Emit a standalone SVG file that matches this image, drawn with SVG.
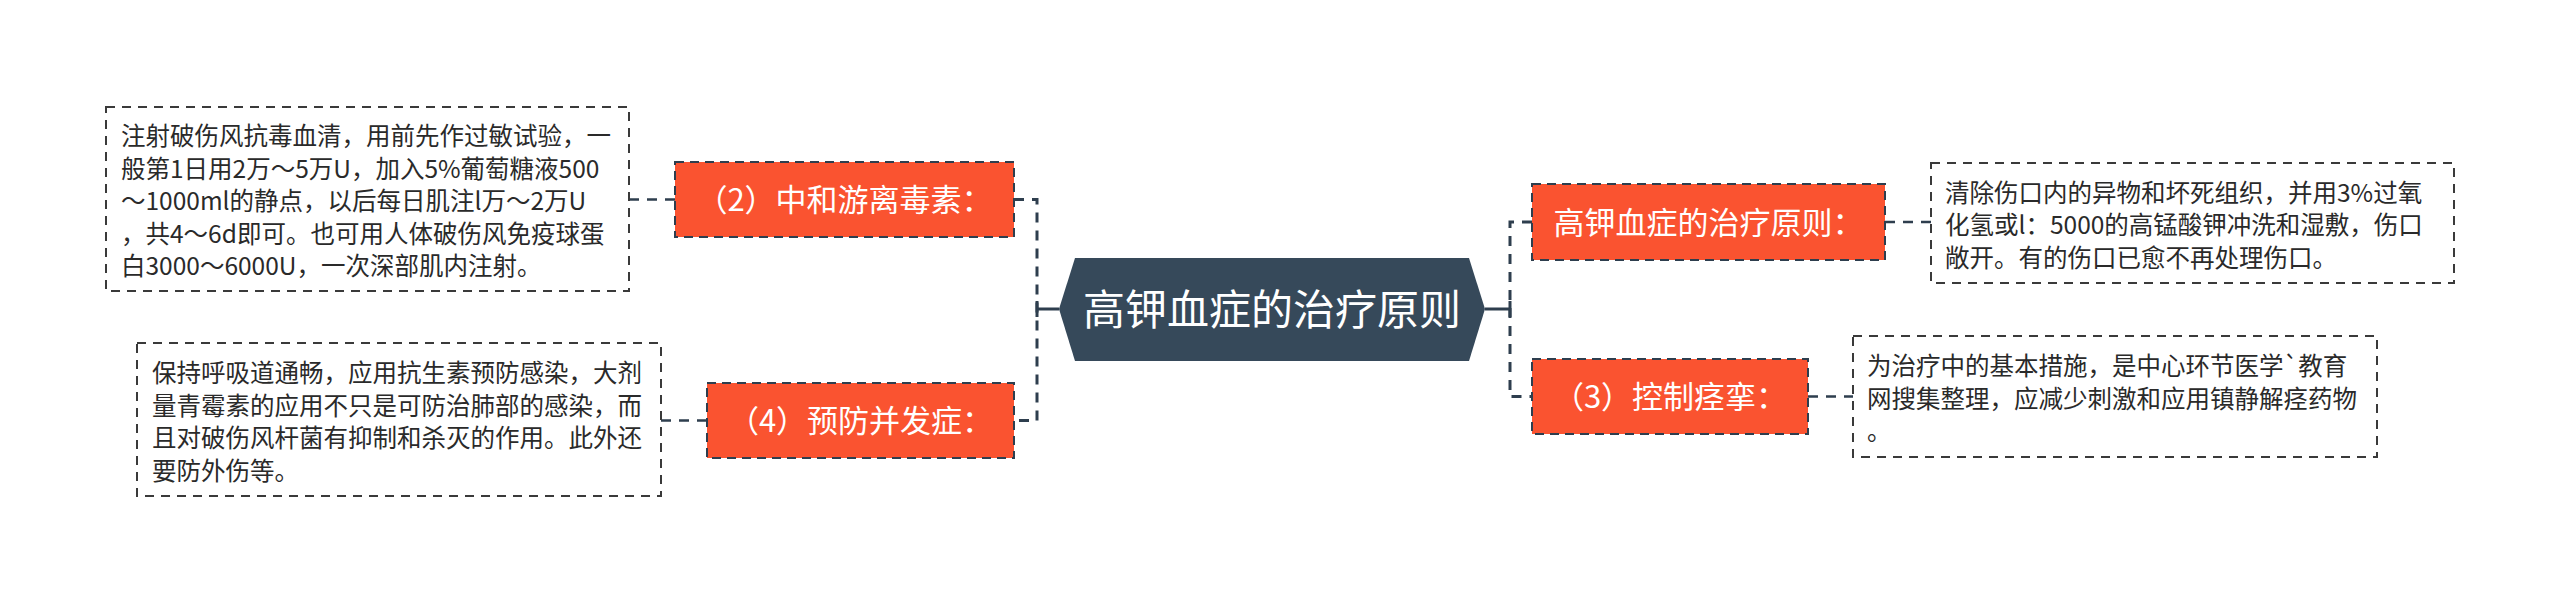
<svg xmlns="http://www.w3.org/2000/svg" width="2560" height="604" viewBox="0 0 2560 604">
<style>
.bg{fill:#ffffff}
.topic{fill:#FA5330;stroke:#2E3E4E;stroke-width:2;stroke-dasharray:9 6}
.note{fill:#ffffff;stroke:#3a3a3a;stroke-width:2;stroke-dasharray:9 7}
.root{fill:#36495A}
.tt{font-family:"Noto Sans CJK SC","Noto Sans",sans-serif;font-size:31px;fill:#ffffff;text-anchor:middle}
.rt{font-family:"Noto Sans CJK SC","Noto Sans",sans-serif;font-size:42px;fill:#ffffff;text-anchor:middle}
.nt{font-family:"Noto Sans CJK SC","Noto Sans",sans-serif;font-size:24.5px;fill:#2a2a2a}
.solid{fill:none;stroke:#2E3E4E;stroke-width:3}
.dash{fill:none;stroke:#2E3E4E;stroke-width:3;stroke-dasharray:10 8}
.dash2{fill:none;stroke:#2E3E4E;stroke-width:2.5;stroke-dasharray:10 8}
</style>
<rect class="bg" x="0" y="0" width="2560" height="604"/>
<g id="connectors">
<path class="solid" d="M1059,309 H1037 M1037,301 V317"/>
<path class="dash" d="M1014,199.5 H1037 V420.5 H1014"/>
<path class="solid" d="M1485,309 H1510 M1510,301 V317"/>
<path class="dash" d="M1532,222 H1510 V396.5 H1532"/>
<path class="dash2" d="M629,199.5 H675"/>
<path class="dash2" d="M661,420.5 H707"/>
<path class="dash2" d="M1885,222 H1931"/>
<path class="dash2" d="M1808,396.5 H1853"/>
</g>
<g id="root">
<polygon class="root" points="1059,309 1075,258 1469,258 1485,309 1469,361 1075,361"/>
<text class="rt" x="1272" y="325">高钾血症的治疗原则</text>
</g>
<g id="topic-2">
<rect class="topic" x="675" y="162" width="339" height="75"/>
<text class="tt" x="844.5" y="211">（2）中和游离毒素：</text>
</g>
<g id="note-2">
<rect class="note" x="106" y="107" width="523" height="184"/>
<text class="nt" x="121" y="145">注射破伤风抗毒血清，用前先作过敏试验，一</text>
<text class="nt" x="121" y="177.5">般第1日用2万～5万U，加入5%葡萄糖液500</text>
<text class="nt" x="121" y="210">～1000ml的静点，以后每日肌注l万～2万U</text>
<text class="nt" x="121" y="242.5">，共4～6d即可。也可用人体破伤风免疫球蛋</text>
<text class="nt" x="121" y="275">白3000～6000U，一次深部肌内注射。</text>
</g>
<g id="topic-4">
<rect class="topic" x="707" y="383" width="307" height="75"/>
<text class="tt" x="860.5" y="432">（4）预防并发症：</text>
</g>
<g id="note-4">
<rect class="note" x="137" y="343" width="524" height="153"/>
<text class="nt" x="152" y="382">保持呼吸道通畅，应用抗生素预防感染，大剂</text>
<text class="nt" x="152" y="414.5">量青霉素的应用不只是可防治肺部的感染，而</text>
<text class="nt" x="152" y="447">且对破伤风杆菌有抑制和杀灭的作用。此外还</text>
<text class="nt" x="152" y="479.5">要防外伤等。</text>
</g>
<g id="topic-1">
<rect class="topic" x="1532" y="184" width="353" height="76"/>
<text class="tt" x="1708.5" y="234">高钾血症的治疗原则：</text>
</g>
<g id="note-1">
<rect class="note" x="1931" y="163" width="523" height="120"/>
<text class="nt" x="1945" y="201.5">清除伤口内的异物和坏死组织，并用3%过氧</text>
<text class="nt" x="1945" y="234">化氢或l：5000的高锰酸钾冲洗和湿敷，伤口</text>
<text class="nt" x="1945" y="266.5">敞开。有的伤口已愈不再处理伤口。</text>
</g>
<g id="topic-3">
<rect class="topic" x="1532" y="359" width="276" height="75"/>
<text class="tt" x="1670" y="408">（3）控制痉挛：</text>
</g>
<g id="note-3">
<rect class="note" x="1853" y="336" width="524" height="121"/>
<text class="nt" x="1867" y="375">为治疗中的基本措施，是中心环节医学`教育</text>
<text class="nt" x="1867" y="407.5">网搜集整理，应减少刺激和应用镇静解痉药物</text>
<text class="nt" x="1867" y="440">。</text>
</g>
</svg>
